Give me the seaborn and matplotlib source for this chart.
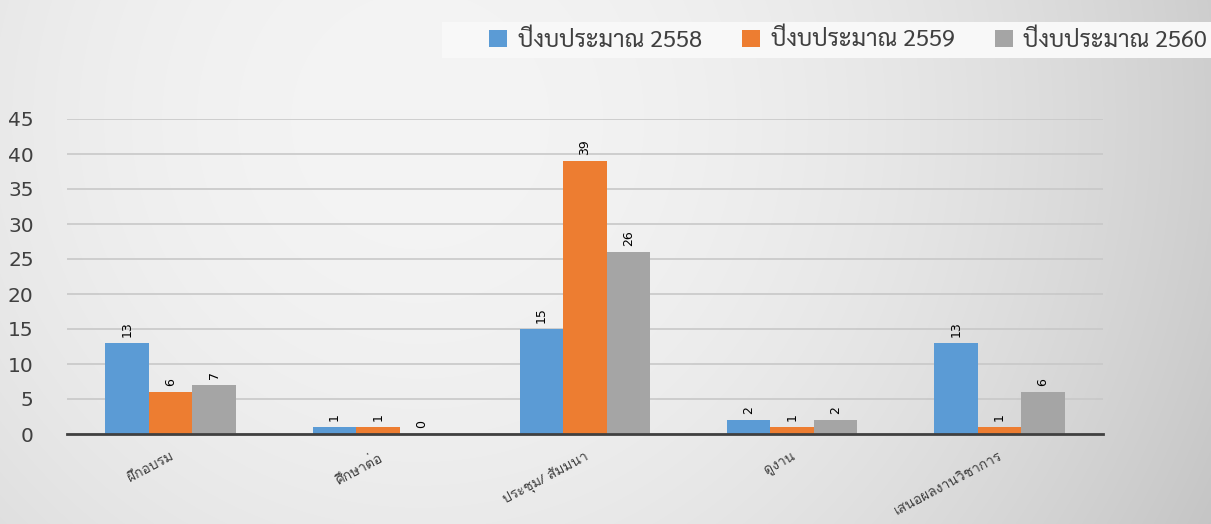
import numpy as np
import pandas as pd
import matplotlib
matplotlib.use("Agg")
import matplotlib.pyplot as plt
from matplotlib.patches import Rectangle
import seaborn as sns
from matplotlib import font_manager
from matplotlib.ft2font import FT2Font

categories = ["ฝึกอบรม", "ศึกษาต่อ", "ประชุม/ สัมมนา", "ดูงาน", "เสนอผลงานวิชาการ"]
series_names = ["ปีงบประมาณ 2558", "ปีงบประมาณ 2559", "ปีงบประมาณ 2560"]
values_2558 = [13, 1, 15, 2, 13]
values_2559 = [6, 1, 39, 1, 1]
values_2560 = [7, 0, 26, 2, 6]
colors = ["#5B9BD5", "#ED7D31", "#A5A5A5"]
y_ticks = [0, 5, 10, 15, 20, 25, 30, 35, 40, 45]


def thai_font_names():
    found = []
    for f in font_manager.fontManager.ttflist:
        try:
            cmap = FT2Font(f.fname).get_charmap()
        except Exception:
            continue
        if 0x0E1B in cmap and 0x0E35 in cmap:
            found.append(f.name)
    return sorted(set(found))


def pick(prefs, available):
    for p in prefs:
        if p in available:
            return p
    return available[0] if available else "DejaVu Sans"


thai_fonts = thai_font_names()
legend_font = pick(["Sarabun", "TH Sarabun New", "Noto Sans Thai"], thai_fonts)
label_font = pick(["Loma", "Noto Sans Thai Looped", "Noto Sans Thai"], thai_fonts)

sns.set_theme(style="white")
plt.rcParams["font.family"] = [label_font, "DejaVu Sans"]

df = pd.DataFrame({
    "category": categories * 3,
    "series": [series_names[0]] * 5 + [series_names[1]] * 5 + [series_names[2]] * 5,
    "value": values_2558 + values_2559 + values_2560,
})

fig = plt.figure(figsize=(12.11, 5.24), dpi=100)

# background gradient (light spot near the top, darker towards the corners)
bg = fig.add_axes([0, 0, 1, 1], zorder=-10)
yy, xx = np.mgrid[0:524, 0:1211]
d2 = (xx - 420) ** 2 + (yy - 120) ** 2
shade = np.clip(244 - 6e-5 * d2, 190, 248) / 255.0
bg.imshow(np.dstack([shade, shade, shade]), aspect="auto", extent=[0, 1, 0, 1])
bg.set_axis_off()

ax = fig.add_axes([67 / 1211, 1 - 434 / 524, (1103 - 67) / 1211, (434 - 119) / 524])
ax.set_facecolor("none")

sns.barplot(data=df, x="category", y="value", hue="series", palette=colors,
            width=0.63, saturation=1, linewidth=0, ax=ax, legend=True)

for cont in ax.containers:
    ax.bar_label(cont, rotation=90, padding=4.5, fontsize=9, color="black",
                 family="DejaVu Sans")

ax.set_ylim(0, 45)
ax.set_xlim(-0.5, 4.5)
ax.set_yticks(y_ticks)
ax.yaxis.grid(True, color="#c8c8c8", linewidth=1.2)
ax.set_axisbelow(True)
for s in ["top", "right", "left"]:
    ax.spines[s].set_visible(False)
ax.spines["bottom"].set_color("#404040")
ax.spines["bottom"].set_linewidth(2)
ax.tick_params(axis="y", length=0, pad=24, labelsize=14.5, labelcolor="#404040")
ax.tick_params(axis="x", length=0, pad=12, labelsize=10, labelcolor="#404040")
for lab in ax.get_yticklabels():
    lab.set_family("DejaVu Sans")
for lab in ax.get_xticklabels():
    lab.set_rotation(28)
    lab.set_ha("right")
    lab.set_va("top")
    lab.set_rotation_mode("anchor")
ax.set_xlabel("")
ax.set_ylabel("")

# legend band
fig.patches.append(Rectangle((442 / 1211, 1 - 58 / 524), (1211 - 442) / 1211, 36 / 524,
                             transform=fig.transFigure, facecolor="#f8f8f8",
                             edgecolor="none", zorder=1))

handles, labels = ax.get_legend_handles_labels()
ax.get_legend().remove()
leg = fig.legend(handles, labels, loc="center right",
                 bbox_to_anchor=(1207 / 1211, 1 - 40 / 524),
                 ncol=3, frameon=False,
                 prop={"family": [legend_font, "DejaVu Sans"], "size": 17},
                 borderaxespad=0, borderpad=0, handlelength=0.76, handleheight=0.76,
                 handletextpad=0.45, columnspacing=1.7, labelcolor="#404040")
leg.set_zorder(2)

fig.savefig("out.png", dpi=100)
